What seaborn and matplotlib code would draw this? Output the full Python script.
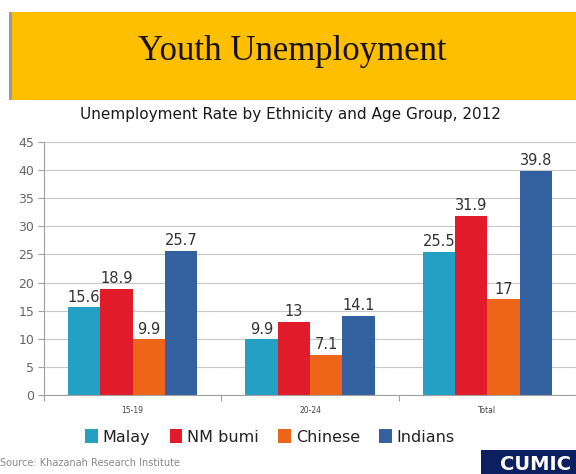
import matplotlib
matplotlib.use("Agg")
import matplotlib.pyplot as plt
import seaborn as sns
import pandas as pd
from matplotlib.patches import Rectangle, Patch

age_groups = ["15-19", "20-24", "Total"]
ethnicities = ["Malay", "NM bumi", "Chinese", "Indians"]
malay = [15.6, 9.9, 25.5]
nm_bumi = [18.9, 13, 31.9]
chinese = [9.9, 7.1, 17]
indians = [25.7, 14.1, 39.8]
labels_txt = {"Malay": ["15.6", "9.9", "25.5"], "NM bumi": ["18.9", "13", "31.9"],
              "Chinese": ["9.9", "7.1", "17"], "Indians": ["25.7", "14.1", "39.8"]}
colors = ["#23a0c3", "#e11b2a", "#ec6519", "#33609f"]

rows = []
for eth, vals in zip(ethnicities, [malay, nm_bumi, chinese, indians]):
    for g, v in zip(age_groups, vals):
        rows.append({"Age": g, "Ethnicity": eth, "Rate": v})
df = pd.DataFrame(rows)

sns.set_style("white")
plt.rcParams["font.family"] = ["DejaVu Sans"]

fig = plt.figure(figsize=(5.76, 4.74), dpi=100)
ax = fig.add_axes([44 / 576, 79 / 474, 1 - 44 / 576, (395 - 142) / 474])

sns.barplot(data=df, x="Age", y="Rate", hue="Ethnicity", order=age_groups,
            hue_order=ethnicities, palette=colors, width=0.73, gap=0,
            saturation=1, linewidth=0, ax=ax, legend=False)

for cont, eth in zip(ax.containers, ethnicities):
    ax.bar_label(cont, labels=labels_txt[eth], padding=2, fontsize=10.5, color="#333333")

ax.set_ylim(0, 45)
ax.set_yticks(range(0, 46, 5))
ax.set_xlim(-0.5, 2.5)
ax.set_xlabel("")
ax.set_ylabel("")
ax.yaxis.grid(True, color="#c8c8c8", linewidth=0.8)
ax.set_axisbelow(True)
for s in ["top", "right"]:
    ax.spines[s].set_visible(False)
for s in ["left", "bottom"]:
    ax.spines[s].set_color("#a0a0a0")
    ax.spines[s].set_linewidth(0.8)
ax.tick_params(axis="y", labelsize=9, colors="#666666", length=4, width=0.8,
               color="#a0a0a0", pad=3, left=True)
ax.tick_params(axis="x", which="major", labelsize=5.5, colors="#444444", length=0, pad=8)
ax.set_xticks([-0.5, 0.5, 1.5, 2.5], minor=True)
ax.tick_params(axis="x", which="minor", length=4, color="#a0a0a0", width=0.8, bottom=True)

# Banner
fig.patches.append(Rectangle((10 / 576, 1 - 100 / 474), 566 / 576, 88 / 474,
                             transform=fig.transFigure, facecolor="#fdbf00",
                             edgecolor="none", zorder=0))
fig.patches.append(Rectangle((9 / 576, 1 - 100 / 474), 3 / 576, 88 / 474,
                             transform=fig.transFigure, facecolor="#9a9a9a",
                             edgecolor="none", zorder=1))
fig.text(292 / 576, 1 - 52 / 474, "Youth Unemployment", ha="center", va="center",
         fontsize=25, family="Liberation Serif", color="#1a1208")
fig.text(290 / 576, 1 - 114 / 474, "Unemployment Rate by Ethnicity and Age Group, 2012",
         ha="center", va="center", fontsize=11, color="#1a1a1a")

# Legend
handles = [Patch(facecolor=c, edgecolor="none") for c in colors]
fig.legend(handles, ethnicities, loc="center", bbox_to_anchor=(270 / 576, 1 - 437 / 474),
           ncol=4, frameon=False, fontsize=11.5, handlelength=0.8, handleheight=0.9,
           handletextpad=0.3, columnspacing=1.2, labelcolor="#222222")

fig.text(0, 1 - 463 / 474, "Source: Khazanah Research Institute", ha="left", va="center",
         fontsize=7, color="#888888", family=["Liberation Sans Narrow", "DejaVu Sans"])

# Logo box
fig.patches.append(Rectangle((481 / 576, 0), 95 / 576, 24 / 474,
                             transform=fig.transFigure, facecolor="#0c1f5e",
                             edgecolor="none", zorder=1))
fig.text(500 / 576, 10 / 474, "CUMIC", ha="left", va="center", fontsize=14,
         fontweight="bold", color="white", zorder=2)

fig.savefig("out.png", dpi=100)
